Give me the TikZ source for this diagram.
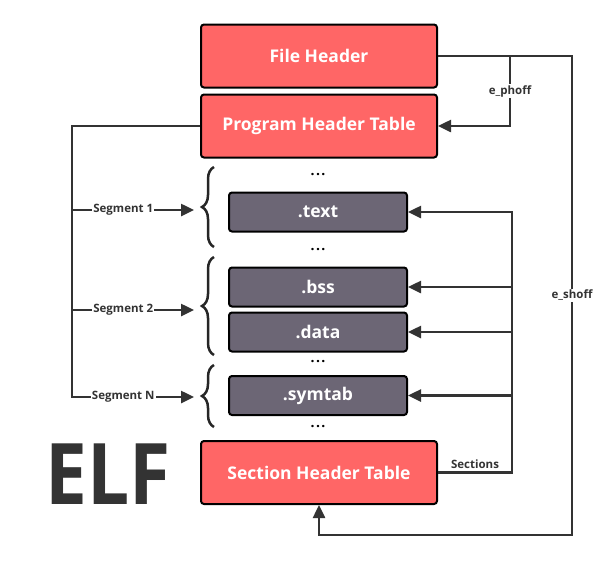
\documentclass[tikz,border=0pt]{standalone}
\usepackage{fontspec}
\setmainfont{Open Sans}
\usepackage{xcolor}
\usetikzlibrary{arrows.meta, positioning, decorations.pathreplacing}
\definecolor{hdrred}{HTML}{FF6666}
\definecolor{secgray}{HTML}{6C6675}
\definecolor{linegray}{HTML}{333333}

\begin{document}
\begin{tikzpicture}[
    x=1pt, y=-1pt,
    hdr/.style={rectangle, draw=black, line width=2pt, rounded corners=3pt, fill=hdrred, minimum width=236pt, minimum height=63pt, text=white, font=\fontsize{17.5}{20}\selectfont\bfseries},
    sect/.style={rectangle, draw=black, line width=2pt, rounded corners=3pt, fill=secgray, minimum width=178pt, minimum height=39pt, text=white, font=\fontsize{17.5}{20}\selectfont\bfseries},
    lbl/.style={fill=white, inner sep=1pt, text=linegray, font=\fontsize{11.5}{13}\selectfont\bfseries},
    dots/.style={inner sep=0pt, text=black, font=\fontsize{14}{14}\selectfont\bfseries},
    arrow/.style={-{Triangle[length=13pt, width=12pt]}, line width=2.5pt, draw=linegray},
    brc/.style={decorate, decoration={brace, amplitude=12pt}, line width=2.5pt, draw=black!85}
]
    \useasboundingbox (0,0) rectangle (610,560);

    % Kopf und Programmkopf
    \node[hdr] (fhdr) at (319,56) {File Header};
    \node[hdr, below=5pt of fhdr] (phdr) {Program Header Table};

    % Sektionen
    \node[sect] (text) at (318,212) {.text};
    \node[sect] (bss) at (318,287) {.bss};
    \node[sect, below=4pt of bss] (data) {.data};
    \node[sect] (symtab) at (318,395.5) {.symtab};

    % Section Header Table
    \node[hdr] (sht) at (319,472.5) {Section Header Table};

    % Punkte
    \node[dots] (dots1) at (318,175) {.\hspace{1.5pt}.\hspace{1.5pt}.};
    \node[dots] (dots2) at (318,250) {.\hspace{1.5pt}.\hspace{1.5pt}.};
    \node[dots] (dots3) at (318,362) {.\hspace{1.5pt}.\hspace{1.5pt}.};
    \node[dots] (dots4) at (318,427) {.\hspace{1.5pt}.\hspace{1.5pt}.};

    % ELF
    \node[text=linegray, xscale=0.88, font=\fontsize{85}{85}\selectfont\bfseries] (elf) at (108,474) {ELF};

    % Klammern
    \draw[brc] (214,247) -- (214,167);
    \draw[brc] (214,355) -- (214,257);
    \draw[brc] (214,427) -- (214,365);

    % Segmente
    \coordinate (trunk) at (phdr.west -| 72,0);
    \coordinate (seg1) at (194,210);
    \coordinate (seg2) at (194,310);
    \coordinate (segN) at (194,397);
    \draw[arrow] (phdr.west) -- (trunk) -- (trunk |- segN) -- node[lbl, pos=0.42] {Segment N} (segN);
    \draw[arrow] (trunk |- seg1) -- node[lbl, pos=0.42] {Segment 1} (seg1);
    \draw[arrow] (trunk |- seg2) -- node[lbl, pos=0.42] {Segment 2} (seg2);

    % Sections
    \coordinate (strunk) at (512,472.5);
    \draw[arrow] (sht.east) -- node[above=2pt, lbl, fill=none] {Sections} (strunk) |- (text.east);
    \draw[arrow] (strunk |- bss.east) -- (bss.east);
    \draw[arrow] (strunk |- data.east) -- (data.east);
    \draw[arrow] (strunk |- symtab.east) -- (symtab.east);

    % Offsets
    \coordinate (eph) at (510,56);
    \coordinate (esh) at (572,56);
    \coordinate (eshb) at (572,535);
    \draw[arrow] (eph) -- node[lbl] {e\_phoff} (eph |- phdr.east) -- (phdr.east);
    \draw[arrow] (fhdr.east) -- (esh) -- node[lbl] {e\_shoff} (eshb) -| (sht.south);
\end{tikzpicture}
\end{document}
